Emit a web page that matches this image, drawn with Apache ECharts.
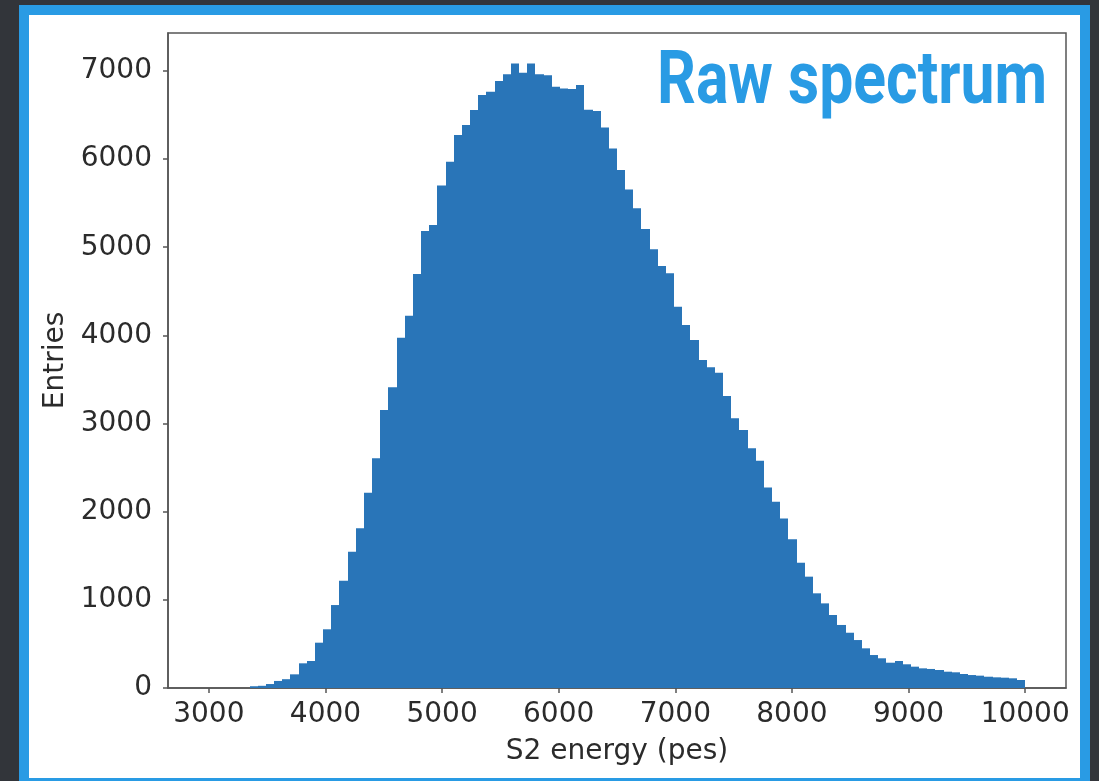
<!DOCTYPE html>
<html>
<head>
<meta charset="utf-8">
<script src="https://cdn.jsdelivr.net/npm/echarts@6/dist/echarts.min.js"></script>
<style>
html,body{margin:0;padding:0;background:#32353a;}
#chart{width:1099px;height:781px;}
</style>
</head>
<body>
<div id="chart"></div>
<script>
// ---- data ----
const binStart = 3000;
const binWidth = 70;
const counts = [
  0, 0, 0, 0, 0, 20, 25, 45, 80, 100,
  155, 280, 306, 514, 666, 941, 1217, 1546, 1811, 2215,
  2605, 3153, 3411, 3974, 4223, 4696, 5184, 5252, 5700, 5970,
  6273, 6386, 6556, 6726, 6764, 6885, 6961, 7085, 6980, 7085,
  6961, 6950, 6821, 6800, 6794, 6840, 6560, 6545, 6359, 6120,
  5876, 5656, 5441, 5206, 4976, 4787, 4704, 4326, 4118, 3947,
  3720, 3638, 3577, 3312, 3059, 2926, 2719, 2579, 2275, 2113,
  1924, 1686, 1421, 1263, 1074, 960, 828, 715, 627, 544,
  450, 374, 337, 287, 306, 269, 242, 223, 216, 204,
  185, 178, 159, 147, 140, 128, 121, 117, 110, 91
];
const xTicks = [3000, 4000, 5000, 6000, 7000, 8000, 9000, 10000];
const yTicks = [0, 1000, 2000, 3000, 4000, 5000, 6000, 7000];
const titleText = 'Raw spectrum';
const xName = 'S2 energy (pes)';
const yName = 'Entries';

// ---- chart ----
const barColor = '#2975b8';
const textColor = '#2b2b2b';
const axisColor = '#555555';
const histData = counts.map((c, i) => [binStart + binWidth * i, binStart + binWidth * (i + 1), c]);

const chart = echarts.init(document.getElementById('chart'), null, {renderer: 'canvas'});
chart.setOption({
  animation: false,
  backgroundColor: '#32353a',
  graphic: {
    elements: [
      {type: 'rect', z: -100, silent: true, shape: {x: 19, y: 5, width: 1071, height: 800}, style: {fill: '#299be4'}},
      {type: 'rect', z: -99, silent: true, shape: {x: 29, y: 15, width: 1051, height: 763}, style: {fill: '#ffffff'}},
      {type: 'text', z: 100, silent: true, x: 1047, y: 84, scaleX: 0.82, scaleY: 1,
        style: {
          x: 0, y: 0, text: titleText, textAlign: 'right', textVerticalAlign: 'middle',
          fill: '#299be4', font: 'bold 74px Roboto'
        }}
    ]
  },
  grid: {
    left: 168, right: 33, top: 33, bottom: 93,
    show: true, borderColor: axisColor, borderWidth: 1.5, backgroundColor: 'transparent'
  },
  xAxis: {
    type: 'value', min: 2650, max: 10350,
    name: xName, nameLocation: 'middle', nameGap: 50,
    nameTextStyle: {fontFamily: 'DejaVu Sans', fontSize: 28, color: textColor},
    axisLine: {show: true, lineStyle: {color: axisColor, width: 1.5}},
    axisTick: {show: true, length: 5, customValues: xTicks, lineStyle: {color: axisColor, width: 1.5}},
    axisLabel: {customValues: xTicks, margin: 13, fontFamily: 'DejaVu Sans', fontSize: 28, color: textColor,
      formatter: v => String(v)},
    splitLine: {show: false}
  },
  yAxis: {
    type: 'value', min: 0, max: 7430,
    name: yName, nameLocation: 'middle', nameGap: 96,
    nameTextStyle: {fontFamily: 'DejaVu Sans', fontSize: 28, color: textColor},
    axisLine: {show: true, lineStyle: {color: axisColor, width: 1.5}},
    axisTick: {show: true, length: 5, customValues: yTicks, lineStyle: {color: axisColor, width: 1.5}},
    axisLabel: {customValues: yTicks, margin: 16, fontFamily: 'DejaVu Sans', fontSize: 28, color: textColor,
      formatter: v => String(v)},
    splitLine: {show: false}
  },
  series: [{
    type: 'custom',
    encode: {x: [0, 1], y: 2},
    data: histData,
    renderItem: function (params, api) {
      const p0 = api.coord([api.value(0), api.value(2)]);
      const p1 = api.coord([api.value(1), 0]);
      const xa = Math.round(p0[0]);
      const xb = Math.round(p1[0]);
      return {
        type: 'rect',
        shape: {x: xa, y: p0[1], width: xb - xa, height: p1[1] - p0[1]},
        style: {fill: barColor}
      };
    }
  }]
});
</script>
</body>
</html>
